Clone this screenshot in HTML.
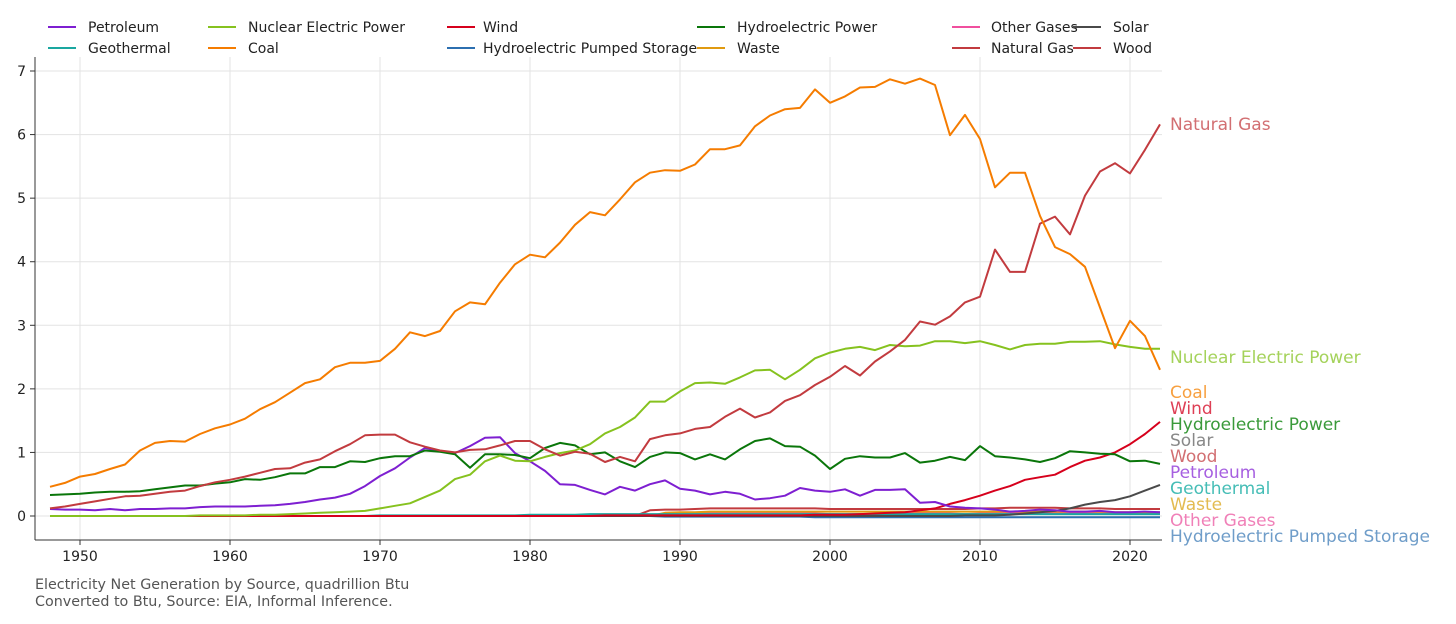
<!DOCTYPE html>
<html><head><meta charset="utf-8"><style>
body{margin:0;background:#fff;}
svg{display:block;font-family:"DejaVu Sans","Liberation Sans",sans-serif;}
</style></head><body>
<svg id="chart" width="1456" height="624" viewBox="0 0 1456 624" xmlns="http://www.w3.org/2000/svg">
<g id="grid"></g>
<g id="axes"></g>
<g id="lines"></g>
<g id="labels"></g>
<g id="legend"></g>
<text x="35" y="589" font-size="14.3" fill="#555">Electricity Net Generation by Source, quadrillion Btu</text>
<text x="35" y="606" font-size="14.3" fill="#555">Converted to Btu, Source: EIA, Informal Inference.</text>
</svg>
<script>
const years = [];
for (let y = 1948; y <= 2022; y++) years.push(y);
const yTicks = [0,1,2,3,4,5,6,7];
const xTicks = [1950,1960,1970,1980,1990,2000,2010,2020];
const coal = [0.46,0.52,0.62,0.66,0.74,0.81,1.03,1.15,1.18,1.17,1.29,1.38,1.44,1.53,1.68,1.79,1.94,2.09,2.15,2.34,2.41,2.41,2.44,2.63,2.89,2.83,2.91,3.22,3.36,3.33,3.67,3.96,4.11,4.07,4.30,4.58,4.78,4.73,4.98,5.25,5.40,5.44,5.43,5.53,5.77,5.77,5.83,6.13,6.30,6.40,6.42,6.71,6.50,6.60,6.74,6.75,6.87,6.80,6.88,6.78,5.99,6.31,5.93,5.17,5.40,5.40,4.72,4.23,4.12,3.92,3.28,2.64,3.07,2.83,2.30];
const naturalGas = [0.12,0.15,0.19,0.23,0.27,0.31,0.32,0.35,0.38,0.40,0.47,0.53,0.57,0.62,0.68,0.74,0.75,0.84,0.89,1.02,1.13,1.27,1.28,1.28,1.16,1.09,1.03,1.00,1.04,1.05,1.11,1.18,1.18,1.05,0.95,1.01,0.98,0.85,0.93,0.86,1.21,1.27,1.30,1.37,1.40,1.56,1.69,1.55,1.63,1.81,1.90,2.06,2.19,2.36,2.21,2.43,2.59,2.77,3.06,3.01,3.14,3.36,3.45,4.19,3.84,3.84,4.60,4.71,4.43,5.04,5.42,5.55,5.39,5.76,6.16];
const nuclear = [0,0,0,0,0,0,0,0,0,0,0.01,0.01,0.01,0.01,0.02,0.02,0.03,0.04,0.05,0.06,0.07,0.08,0.12,0.16,0.20,0.30,0.40,0.58,0.65,0.86,0.95,0.87,0.86,0.93,0.99,1.03,1.13,1.30,1.40,1.55,1.80,1.80,1.96,2.09,2.10,2.08,2.18,2.29,2.30,2.15,2.30,2.48,2.57,2.63,2.66,2.61,2.69,2.67,2.68,2.75,2.75,2.72,2.75,2.69,2.62,2.69,2.71,2.71,2.74,2.74,2.75,2.70,2.66,2.63,2.63];
const hydro = [0.33,0.34,0.35,0.37,0.38,0.38,0.39,0.42,0.45,0.48,0.48,0.51,0.53,0.58,0.57,0.61,0.67,0.67,0.77,0.77,0.86,0.85,0.91,0.94,0.94,1.03,1.01,0.97,0.76,0.97,0.97,0.96,0.91,1.07,1.15,1.11,0.97,1.00,0.86,0.77,0.93,1.00,0.99,0.89,0.97,0.89,1.05,1.18,1.22,1.10,1.09,0.95,0.74,0.90,0.94,0.92,0.92,0.99,0.84,0.87,0.93,0.88,1.10,0.94,0.92,0.89,0.85,0.91,1.02,1.00,0.98,0.97,0.86,0.87,0.82];
const petroleum = [0.11,0.10,0.10,0.09,0.11,0.09,0.11,0.11,0.12,0.12,0.14,0.15,0.15,0.15,0.16,0.17,0.19,0.22,0.26,0.29,0.35,0.47,0.63,0.75,0.92,1.07,1.02,0.99,1.10,1.23,1.24,0.99,0.86,0.71,0.50,0.49,0.41,0.34,0.46,0.40,0.50,0.56,0.43,0.40,0.34,0.38,0.35,0.26,0.28,0.32,0.44,0.40,0.38,0.42,0.32,0.41,0.41,0.42,0.21,0.22,0.15,0.13,0.12,0.10,0.07,0.08,0.10,0.09,0.07,0.07,0.08,0.06,0.06,0.07,0.06];
const wind = [0,0,0,0,0,0,0,0,0,0,0,0,0,0,0,0,0,0,0,0,0,0,0,0,0,0,0,0,0,0,0,0,0,0,0,0,0,0.01,0.01,0.01,0.01,0.01,0.01,0.01,0.01,0.01,0.01,0.01,0.01,0.01,0.01,0.02,0.02,0.02,0.03,0.04,0.05,0.06,0.09,0.12,0.19,0.25,0.32,0.40,0.47,0.57,0.61,0.65,0.77,0.87,0.92,1.00,1.13,1.29,1.48,1.45].slice(0,75);
const solar = [0,0,0,0,0,0,0,0,0,0,0,0,0,0,0,0,0,0,0,0,0,0,0,0,0,0,0,0,0,0,0,0,0,0,0,0,0,0,0,0,0,0,0,0,0,0,0,0,0,0,0,0,0,0,0,0,0,0,0,0,0,0.01,0.01,0.01,0.02,0.04,0.06,0.08,0.12,0.18,0.22,0.25,0.31,0.40,0.49,0.56].slice(0,75);
const wood = [0,0,0,0,0,0,0,0,0,0,0,0,0,0,0,0,0,0,0,0,0,0,0,0,0,0,0,0,0,0,0,0,0,0,0,0,0,0,0,0,0.09,0.10,0.10,0.11,0.12,0.12,0.12,0.12,0.12,0.12,0.12,0.12,0.11,0.11,0.11,0.11,0.11,0.11,0.11,0.11,0.11,0.11,0.12,0.12,0.13,0.13,0.13,0.13,0.12,0.12,0.12,0.11,0.11,0.11,0.11];
const waste = [0,0,0,0,0,0,0,0,0,0,0,0,0,0,0,0,0,0,0,0,0,0,0,0,0,0,0,0,0,0,0,0,0,0,0,0,0,0,0,0,0,0.05,0.06,0.06,0.07,0.07,0.07,0.07,0.07,0.07,0.07,0.07,0.07,0.07,0.07,0.07,0.07,0.07,0.07,0.07,0.07,0.07,0.07,0.07,0.07,0.07,0.07,0.07,0.07,0.07,0.07,0.06,0.06,0.06,0.06];
const otherGases = [0,0,0,0,0,0,0,0,0,0,0,0,0,0,0,0,0,0,0,0,0,0,0,0,0,0,0,0,0,0,0,0,0,0,0,0,0,0,0,0,0,0.03,0.03,0.04,0.04,0.04,0.04,0.04,0.04,0.04,0.04,0.04,0.03,0.03,0.03,0.03,0.04,0.04,0.04,0.04,0.04,0.03,0.04,0.04,0.04,0.04,0.04,0.04,0.04,0.04,0.04,0.04,0.04,0.04,0.04];
const geothermal = [0,0,0,0,0,0,0,0,0,0,0,0,0,0,0,0,0,0,0,0,0,0,0.01,0.01,0.01,0.01,0.01,0.01,0.01,0.01,0.01,0.01,0.02,0.02,0.02,0.02,0.03,0.03,0.03,0.03,0.03,0.03,0.03,0.03,0.03,0.03,0.03,0.03,0.03,0.03,0.03,0.03,0.03,0.03,0.03,0.03,0.03,0.03,0.03,0.03,0.03,0.03,0.03,0.03,0.03,0.03,0.03,0.03,0.03,0.03,0.03,0.03,0.03,0.03,0.03];
const pumped = [0,0,0,0,0,0,0,0,0,0,0,0,0,0,0,0,0,0,0,0,0,0,0,0,0,0,0,0,0,0,0,0,0,0,0,0,0,0,0,0,0,-0.01,-0.01,-0.01,-0.01,-0.01,-0.01,-0.01,-0.01,-0.01,-0.01,-0.02,-0.02,-0.02,-0.02,-0.02,-0.02,-0.02,-0.02,-0.02,-0.02,-0.02,-0.02,-0.02,-0.02,-0.02,-0.02,-0.02,-0.02,-0.02,-0.02,-0.02,-0.02,-0.02,-0.02];

const NS = "http://www.w3.org/2000/svg";
const xPos = yr => 80 + 15 * (yr - 1950);
const yPos = v => 516 - 63.57 * v;
function mk(tag, attrs, parent) { const e = document.createElementNS(NS, tag); for (const k in attrs) e.setAttribute(k, attrs[k]); parent.appendChild(e); return e; }
const grid = document.getElementById('grid'), axes = document.getElementById('axes'), lines = document.getElementById('lines'), labels = document.getElementById('labels'), legend = document.getElementById('legend');

yTicks.forEach(t => {
  const l = mk('line', {x1:35, x2:1162, y1:yPos(t), y2:yPos(t), stroke:'#e3e3e3', 'stroke-width':1}, grid);
  
  
  const tk = mk('line', {x1:30, x2:35, y1:yPos(t), y2:yPos(t), stroke:'#333'}, axes);
  
  
  const tx = mk('text', {x:26, y:yPos(t)+5, 'text-anchor':'end', 'font-size':14, fill:'#222'}, axes);
  tx.textContent = t;
  
  
});
xTicks.forEach(t => {
  const l = mk('line', {x1:xPos(t), x2:xPos(t), y1:57, y2:540, stroke:'#e3e3e3', 'stroke-width':1}, grid);
  
  
  const tk = mk('line', {x1:xPos(t), x2:xPos(t), y1:540, y2:545, stroke:'#333'}, axes);
  
  
  const tx = mk('text', {x:xPos(t), y:561, 'text-anchor':'middle', 'font-size':14, fill:'#222'}, axes);
  tx.textContent = t;
  
  
});
const sp1 = mk('line', {x1:35, x2:35, y1:57, y2:540, stroke:'#333', 'stroke-width':1}, axes);


const sp2 = mk('line', {x1:35, x2:1162, y1:540, y2:540, stroke:'#333', 'stroke-width':1}, axes);



const series = [
  {name:'Petroleum', data:petroleum, color:'#7e1fd1', lab:472, lcol:'#a65fe0', col:0, row:0},
  {name:'Geothermal', data:geothermal, color:'#1aa7a0', lab:488, lcol:'#45bdb6', col:0, row:1},
  {name:'Nuclear Electric Power', data:nuclear, color:'#86c21f', lab:357, lcol:'#a4d25a', col:1, row:0},
  {name:'Coal', data:coal, color:'#f57c00', lab:392, lcol:'#f7a040', col:1, row:1},
  {name:'Wind', data:wind, color:'#d6001c', lab:408, lcol:'#de3f55', col:2, row:0},
  {name:'Hydroelectric Pumped Storage', data:pumped, color:'#2c6fb0', lab:536, lcol:'#6f9dc9', col:2, row:1},
  {name:'Hydroelectric Power', data:hydro, color:'#0a760a', lab:424, lcol:'#3a9a3a', col:3, row:0},
  {name:'Waste', data:waste, color:'#e09a10', lab:504, lcol:'#e3bb50', col:3, row:1},
  {name:'Other Gases', data:otherGases, color:'#f04f9e', lab:520, lcol:'#f080b8', col:4, row:0},
  {name:'Natural Gas', data:naturalGas, color:'#c23b3f', lab:124, lcol:'#d26f72', col:4, row:1},
  {name:'Solar', data:solar, color:'#4a4a4a', lab:440, lcol:'#888888', col:5, row:0},
  {name:'Wood', data:wood, color:'#c23b3f', lab:456, lcol:'#d26f72', col:5, row:1},
];
const legLineX = [48, 208, 447, 697, 952, 1073];
const legTextX = [88, 248, 483, 737, 991, 1113];
const drawOrder = ['Wood','Other Gases','Waste','Geothermal','Hydroelectric Pumped Storage','Solar','Wind','Petroleum','Hydroelectric Power','Nuclear Electric Power','Natural Gas','Coal'];
drawOrder.forEach(n => {
  const s = series.find(q => q.name === n);
  const pts = s.data.map((v, i) => xPos(years[i]).toFixed(1) + ',' + yPos(v).toFixed(1)).join(' ');
  const pl = mk('polyline', {points:pts, fill:'none', stroke:s.color, 'stroke-width':2, 'stroke-linejoin':'round'}, lines);
  
  
});
series.forEach(s => {
  const t = mk('text', {x:1170, y:s.lab+6, 'font-size':17, fill:s.lcol}, labels);
  t.textContent = s.name;
  
  
  const lx = legLineX[s.col], ly = s.row === 0 ? 27 : 48;
  const g = mk('g', {}, legend);
  
  
  mk('line', {x1:lx, x2:lx+28, y1:ly, y2:ly, stroke:s.color, 'stroke-width':2}, g);
  const lt = mk('text', {x:legTextX[s.col], y:ly+5, 'font-size':14, fill:'#222'}, g);
  lt.textContent = s.name;
});
</script>
</body></html>
